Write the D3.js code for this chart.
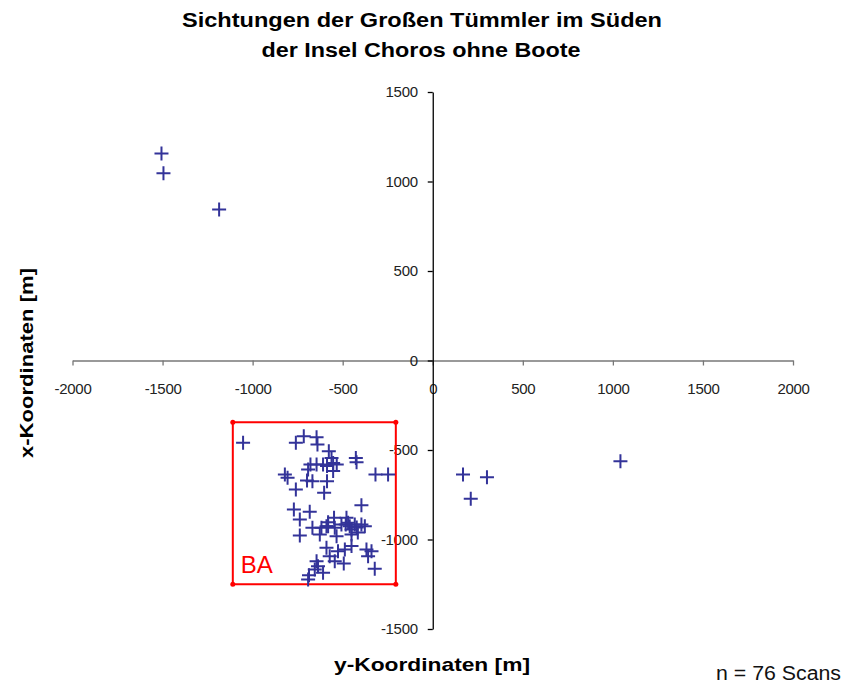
<!DOCTYPE html>
<html>
<head>
<meta charset="utf-8">
<script src="https://cdn.jsdelivr.net/npm/d3@7"></script>
<style>
  body { margin: 0; background: #fff; }
  text { font-family: "Liberation Sans", Arial, sans-serif; }
</style>
</head>
<body>
<svg id="chart"></svg>
<script>
const width = 844;
const height = 684;

// sightings: y-Koordinate (horizontal), x-Koordinate (vertical)
const sightY = [-1506, -1495, -1186, 168, 301, 211, 1042,
  -1053, -760, -716, -645, -640, -577, -427, -423, -562, -553,
  -679, -645, -609, -587, -533, -553, -692, -821, -806, -698,
  -668, -587, -760, -603, -318, -248, -396, -771, -683, -738,
  -548, -581, -479, -668, -618, -581, -544, -507, -483, -461,
  -451, -433, -396, -377, -470, -738, -627, -534, -451, -590,
  -526, -488, -451, -368, -340, -359, -572, -544, -494, -322,
  -645, -637, -655, -609, -687, -692, -590, -422, -416];
const sightX = [1157, 1046, 844, -637, -652, -773, -563,
  -460, -460, -423, -429, -469, -507, -544, -568, -544, -572,
  -581, -581, -581, -590, -581, -618, -609, -637, -655, -670,
  -674, -674, -721, -739, -637, -637, -808, -832, -845, -888,
  -879, -903, -879, -935, -935, -926, -935, -916, -916, -926,
  -944, -916, -916, -926, -907, -978, -972, -982, -972, -1046,
  -1065, -1056, -1037, -1056, -1065, -1093, -1093, -1121, -1134, -1164,
  -1121, -1149, -1168, -1186, -1200, -1224, -926, -933, -961];

// area BA
const boxY = [-1110, -205, -205, -1110, -1110];
const boxX = [-345, -345, -1250, -1250, -345];

const xTicks = [-2000, -1500, -1000, -500, 0, 500, 1000, 1500, 2000];
const yTicks = [-1500, -1000, -500, 0, 500, 1000, 1500];

const svg = d3.select("#chart").attr("width", width).attr("height", height);

const x = d3.scaleLinear().domain([-2000, 2000]).range([72.5, 793]);
const y = d3.scaleLinear().domain([-1500, 1500]).range([629, 92]);

// title
const title = svg.append("g").attr("font-weight", "bold").attr("font-size", 20).attr("text-anchor", "middle");
title.append("text").attr("x", 422).attr("y", 27)
  .attr("textLength", 480).attr("lengthAdjust", "spacingAndGlyphs")
  .text("Sichtungen der Großen Tümmler im Süden");
title.append("text").attr("x", 421).attr("y", 57)
  .attr("textLength", 319).attr("lengthAdjust", "spacingAndGlyphs")
  .text("der Insel Choros ohne Boote");

// horizontal axis
const gx = svg.append("g")
  .attr("transform", `translate(0,${y(0)})`)
  .call(d3.axisBottom(x).tickValues(xTicks).tickSize(5).tickSizeOuter(0).tickFormat((d) => String(d)));
gx.select(".domain").attr("stroke", "#777").attr("stroke-width", 1.3);
gx.selectAll(".tick line").attr("stroke", "#777").attr("stroke-width", 1.3);
gx.selectAll(".tick text").attr("font-size", 15).attr("fill", "#222").attr("y", 23).attr("dy", "0.71em")
  .attr("font-family", "Liberation Sans, Arial, sans-serif").attr("letter-spacing", -0.3);

// vertical axis
const gy = svg.append("g")
  .attr("transform", `translate(${x(0)},0)`)
  .call(d3.axisLeft(y).tickValues(yTicks).tickSize(5).tickSizeOuter(0).tickFormat((d) => String(d)));
gy.select(".domain").attr("stroke", "#000").attr("stroke-width", 1.3);
gy.selectAll(".tick line").attr("stroke", "#000").attr("stroke-width", 1.3);
gy.selectAll(".tick text").attr("font-size", 15).attr("fill", "#222").attr("x", -15)
  .attr("font-family", "Liberation Sans, Arial, sans-serif").attr("letter-spacing", -0.3);

// box BA
const boxPts = boxY.map((d, i) => [d, boxX[i]]);
svg.append("path")
  .datum(boxPts)
  .attr("fill", "none")
  .attr("stroke", "#ff0000")
  .attr("stroke-width", 2)
  .attr("d", d3.line().x((d) => x(d[0])).y((d) => y(d[1])));
svg.selectAll(".corner")
  .data(boxPts.slice(0, 4))
  .join("circle")
  .attr("class", "corner")
  .attr("cx", (d) => x(d[0]))
  .attr("cy", (d) => y(d[1]))
  .attr("r", 2.5)
  .attr("fill", "#ff0000");
svg.append("text")
  .attr("x", x(boxY[0]) + 8)
  .attr("y", y(boxX[2]) - 11)
  .attr("font-size", 24)
  .attr("fill", "#ff0000")
  .text("BA");

// sightings as plus markers
const pts = sightY.map((d, i) => ({ y: d, x: sightX[i] }));
svg.selectAll(".pt")
  .data(pts)
  .join("path")
  .attr("class", "pt")
  .attr("transform", (d) => `translate(${x(d.y)},${y(d.x)})`)
  .attr("d", "M-7,0H7M0,-7V7")
  .attr("stroke", "#333399")
  .attr("stroke-width", 2)
  .attr("fill", "none");

// axis titles
svg.append("text")
  .attr("x", 432).attr("y", 671)
  .attr("text-anchor", "middle")
  .attr("font-weight", "bold").attr("font-size", 19)
  .attr("textLength", 196).attr("lengthAdjust", "spacingAndGlyphs")
  .text("y-Koordinaten [m]");
svg.append("text")
  .attr("transform", "translate(33,363) rotate(-90)")
  .attr("text-anchor", "middle")
  .attr("font-weight", "bold").attr("font-size", 19)
  .attr("textLength", 190).attr("lengthAdjust", "spacingAndGlyphs")
  .text("x-Koordinaten [m]");

svg.append("text")
  .attr("x", 841).attr("y", 680)
  .attr("text-anchor", "end")
  .attr("font-size", 20)
  .attr("fill", "#111")
  .attr("textLength", 125).attr("lengthAdjust", "spacingAndGlyphs")
  .text("n = 76 Scans");
</script>
</body>
</html>
